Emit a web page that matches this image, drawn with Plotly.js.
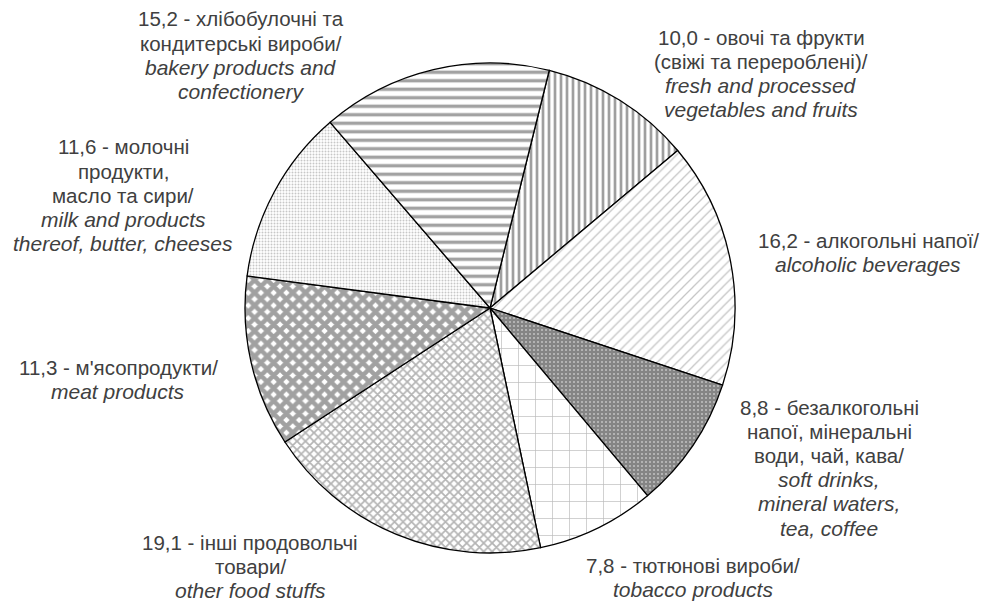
<!DOCTYPE html>
<html>
<head>
<meta charset="utf-8">
<script src="https://cdn.plot.ly/plotly-3.0.1.min.js"></script>
<style>html,body{margin:0;padding:0;background:#fff;}#chart{width:989px;height:604px;}</style>
</head>
<body>
<div id="chart"></div>
<script>
// Data (clockwise from the top)
const values = [10.0, 16.2, 8.8, 7.8, 19.1, 11.3, 11.6, 15.2];
const uaLabels = [
  'овочі та фрукти<br>(свіжі та перероблені)/',
  'алкогольні напої/',
  'безалкогольні<br>напої, мінеральні<br>води, чай, кава/',
  'тютюнові вироби/',
  'інші продовольчі<br>товари/',
  'м\'ясопродукти/',
  'молочні<br>продукти,<br>масло та сири/',
  'хлібобулочні та<br>кондитерські вироби/'
];
const enLabels = [
  'fresh and processed<br>vegetables and fruits',
  'alcoholic beverages',
  'soft drinks,<br>mineral waters,<br>tea, coffee',
  'tobacco products',
  'other food stuffs',
  'meat products',
  'milk and products<br>thereof, butter, cheeses',
  'bakery products and<br>confectionery'
];

// Styling (not data)
const W = 989, H = 604;
const cx = 490, cy = 308, R = 245;
const labelPos = [[761, 37], [868, 240], [829, 407], [693, 565], [250, 542], [118, 367], [123, 147], [241, 19]];
const lineStep = 24.2;
const patShape = ['|', '/', '.', '+', 'x', 'x', '.', '-'];
const patFg = ['#404040', '#8c8c8c', '#ffffff', '#7a7a7a', '#6a6a6a', '#444444', '#8f8f8f', '#454545'];
const patBg = ['#ffffff', '#ffffff', '#858585', '#ffffff', '#ffffff', '#ffffff', '#ffffff', '#ffffff'];
const patSize = [6, 7, 4, 17, 6, 9, 3, 8.5];
const patSolid = [0.45, 0.18, 0.2, 0.08, 0.5, 0.75, 0.35, 0.4];

const fmt = v => v.toFixed(1).replace('.', ',');

const trace = {
  type: 'pie',
  values: values,
  labels: uaLabels.map((u, i) => fmt(values[i]) + ' - ' + u),
  sort: false,
  direction: 'clockwise',
  rotation: 14,
  textinfo: 'none',
  hoverinfo: 'label+value',
  showlegend: false,
  domain: {x: [(cx - R) / W, (cx + R) / W], y: [(H - cy - R) / H, (H - cy + R) / H]},
  marker: {
    colors: values.map(() => '#ffffff'),
    line: {color: '#000000', width: 1.3},
    pattern: {
      shape: patShape,
      fgcolor: patFg,
      bgcolor: patBg,
      size: patSize,
      solidity: patSolid,
      fillmode: 'overlay'
    }
  }
};

const fontUa = {family: '"Liberation Sans", Arial, sans-serif', size: 20.5, color: '#404040'};
const fontEn = {family: '"Liberation Sans", Arial, sans-serif', size: 21, color: '#404040'};
const annotations = [];
values.forEach((v, i) => {
  const ua = (fmt(v) + ' - ' + uaLabels[i]).split('<br>').map(s => ({t: s, f: fontUa}));
  const en = enLabels[i].split('<br>').map(s => ({t: '<i>' + s + '</i>', f: fontEn}));
  ua.concat(en).forEach((ln, k) => {
    annotations.push({
      xref: 'paper', yref: 'paper',
      x: labelPos[i][0] / W, y: 1 - (labelPos[i][1] + k * lineStep) / H,
      xanchor: 'center', yanchor: 'middle', align: 'center',
      showarrow: false, text: ln.t, font: ln.f
    });
  });
});

Plotly.newPlot('chart', [trace], {
  width: W, height: H,
  margin: {l: 0, r: 0, t: 0, b: 0},
  paper_bgcolor: '#ffffff',
  plot_bgcolor: '#ffffff',
  annotations: annotations
}, {staticPlot: true});
</script>
</body>
</html>
